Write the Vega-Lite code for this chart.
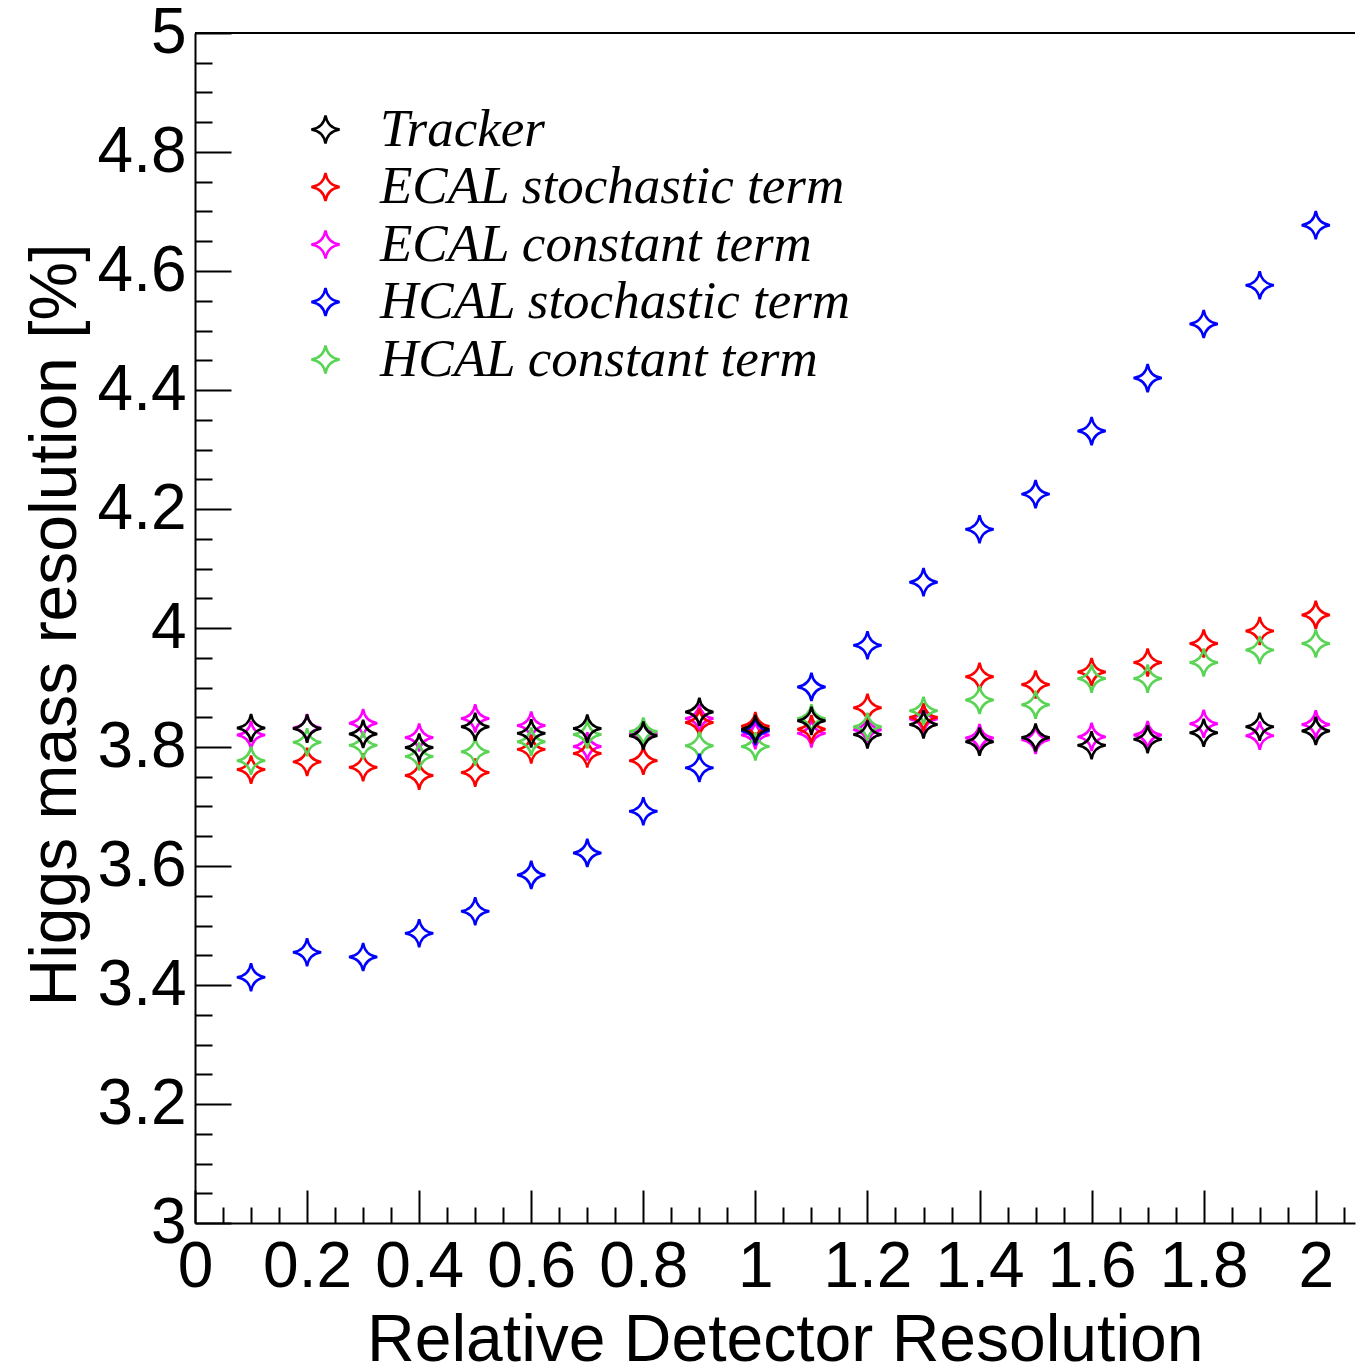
{
  "$schema": "https://vega.github.io/schema/vega-lite/v6.json",
  "autosize": "none",
  "width": 1160,
  "height": 1190,
  "padding": {"left": 195, "top": 33, "right": 1, "bottom": 144},
  "background": "white",
  "config": {
    "view": {"stroke": null},
    "axis": {
      "domainColor": "black",
      "domainWidth": 2,
      "tickColor": "black",
      "tickWidth": 2,
      "tickCount": 200,
      "grid": false,
      "labelFont": "Liberation Sans",
      "labelFontSize": 64,
      "labelColor": "black",
      "titleFont": "Liberation Sans",
      "titleFontSize": 66,
      "titleFontWeight": "normal",
      "titleColor": "black",
      "labelFlush": false,
      "labelOverlap": false,
      "labelBound": false
    }
  },
  "data": {
    "values": [
      {"det": "Tracker", "rel": 0.1, "res": 3.832},
      {"det": "Tracker", "rel": 0.2, "res": 3.831},
      {"det": "Tracker", "rel": 0.3, "res": 3.822},
      {"det": "Tracker", "rel": 0.4, "res": 3.799},
      {"det": "Tracker", "rel": 0.5, "res": 3.834},
      {"det": "Tracker", "rel": 0.6, "res": 3.823},
      {"det": "Tracker", "rel": 0.7, "res": 3.831},
      {"det": "Tracker", "rel": 0.8, "res": 3.819},
      {"det": "Tracker", "rel": 0.9, "res": 3.859},
      {"det": "Tracker", "rel": 1.0, "res": 3.830},
      {"det": "Tracker", "rel": 1.1, "res": 3.844},
      {"det": "Tracker", "rel": 1.2, "res": 3.821},
      {"det": "Tracker", "rel": 1.3, "res": 3.838},
      {"det": "Tracker", "rel": 1.4, "res": 3.809},
      {"det": "Tracker", "rel": 1.5, "res": 3.816},
      {"det": "Tracker", "rel": 1.6, "res": 3.803},
      {"det": "Tracker", "rel": 1.7, "res": 3.813},
      {"det": "Tracker", "rel": 1.8, "res": 3.824},
      {"det": "Tracker", "rel": 1.9, "res": 3.834},
      {"det": "Tracker", "rel": 2.0, "res": 3.827},
      {"det": "ECAL stochastic term", "rel": 0.1, "res": 3.762},
      {"det": "ECAL stochastic term", "rel": 0.2, "res": 3.775},
      {"det": "ECAL stochastic term", "rel": 0.3, "res": 3.766},
      {"det": "ECAL stochastic term", "rel": 0.4, "res": 3.752},
      {"det": "ECAL stochastic term", "rel": 0.5, "res": 3.757},
      {"det": "ECAL stochastic term", "rel": 0.6, "res": 3.796},
      {"det": "ECAL stochastic term", "rel": 0.7, "res": 3.789},
      {"det": "ECAL stochastic term", "rel": 0.8, "res": 3.777},
      {"det": "ECAL stochastic term", "rel": 0.9, "res": 3.841},
      {"det": "ECAL stochastic term", "rel": 1.0, "res": 3.835},
      {"det": "ECAL stochastic term", "rel": 1.1, "res": 3.830},
      {"det": "ECAL stochastic term", "rel": 1.2, "res": 3.866},
      {"det": "ECAL stochastic term", "rel": 1.3, "res": 3.850},
      {"det": "ECAL stochastic term", "rel": 1.4, "res": 3.918},
      {"det": "ECAL stochastic term", "rel": 1.5, "res": 3.905},
      {"det": "ECAL stochastic term", "rel": 1.6, "res": 3.926},
      {"det": "ECAL stochastic term", "rel": 1.7, "res": 3.942},
      {"det": "ECAL stochastic term", "rel": 1.8, "res": 3.974},
      {"det": "ECAL stochastic term", "rel": 1.9, "res": 3.995},
      {"det": "ECAL stochastic term", "rel": 2.0, "res": 4.022},
      {"det": "ECAL constant term", "rel": 0.1, "res": 3.820},
      {"det": "ECAL constant term", "rel": 0.2, "res": 3.832},
      {"det": "ECAL constant term", "rel": 0.3, "res": 3.840},
      {"det": "ECAL constant term", "rel": 0.4, "res": 3.816},
      {"det": "ECAL constant term", "rel": 0.5, "res": 3.848},
      {"det": "ECAL constant term", "rel": 0.6, "res": 3.836},
      {"det": "ECAL constant term", "rel": 0.7, "res": 3.801},
      {"det": "ECAL constant term", "rel": 0.8, "res": 3.823},
      {"det": "ECAL constant term", "rel": 0.9, "res": 3.848},
      {"det": "ECAL constant term", "rel": 1.0, "res": 3.820},
      {"det": "ECAL constant term", "rel": 1.1, "res": 3.823},
      {"det": "ECAL constant term", "rel": 1.2, "res": 3.829},
      {"det": "ECAL constant term", "rel": 1.3, "res": 3.847},
      {"det": "ECAL constant term", "rel": 1.4, "res": 3.815},
      {"det": "ECAL constant term", "rel": 1.5, "res": 3.812},
      {"det": "ECAL constant term", "rel": 1.6, "res": 3.817},
      {"det": "ECAL constant term", "rel": 1.7, "res": 3.820},
      {"det": "ECAL constant term", "rel": 1.8, "res": 3.839},
      {"det": "ECAL constant term", "rel": 1.9, "res": 3.819},
      {"det": "ECAL constant term", "rel": 2.0, "res": 3.838},
      {"det": "HCAL stochastic term", "rel": 0.1, "res": 3.413},
      {"det": "HCAL stochastic term", "rel": 0.2, "res": 3.455},
      {"det": "HCAL stochastic term", "rel": 0.3, "res": 3.447},
      {"det": "HCAL stochastic term", "rel": 0.4, "res": 3.487},
      {"det": "HCAL stochastic term", "rel": 0.5, "res": 3.524},
      {"det": "HCAL stochastic term", "rel": 0.6, "res": 3.585},
      {"det": "HCAL stochastic term", "rel": 0.7, "res": 3.622},
      {"det": "HCAL stochastic term", "rel": 0.8, "res": 3.692},
      {"det": "HCAL stochastic term", "rel": 0.9, "res": 3.765},
      {"det": "HCAL stochastic term", "rel": 1.0, "res": 3.827},
      {"det": "HCAL stochastic term", "rel": 1.1, "res": 3.901},
      {"det": "HCAL stochastic term", "rel": 1.2, "res": 3.971},
      {"det": "HCAL stochastic term", "rel": 1.3, "res": 4.077},
      {"det": "HCAL stochastic term", "rel": 1.4, "res": 4.166},
      {"det": "HCAL stochastic term", "rel": 1.5, "res": 4.225},
      {"det": "HCAL stochastic term", "rel": 1.6, "res": 4.331},
      {"det": "HCAL stochastic term", "rel": 1.7, "res": 4.420},
      {"det": "HCAL stochastic term", "rel": 1.8, "res": 4.511},
      {"det": "HCAL stochastic term", "rel": 1.9, "res": 4.576},
      {"det": "HCAL stochastic term", "rel": 2.0, "res": 4.677},
      {"det": "HCAL constant term", "rel": 0.1, "res": 3.777},
      {"det": "HCAL constant term", "rel": 0.2, "res": 3.808},
      {"det": "HCAL constant term", "rel": 0.3, "res": 3.803},
      {"det": "HCAL constant term", "rel": 0.4, "res": 3.784},
      {"det": "HCAL constant term", "rel": 0.5, "res": 3.792},
      {"det": "HCAL constant term", "rel": 0.6, "res": 3.809},
      {"det": "HCAL constant term", "rel": 0.7, "res": 3.821},
      {"det": "HCAL constant term", "rel": 0.8, "res": 3.826},
      {"det": "HCAL constant term", "rel": 0.9, "res": 3.802},
      {"det": "HCAL constant term", "rel": 1.0, "res": 3.801},
      {"det": "HCAL constant term", "rel": 1.1, "res": 3.848},
      {"det": "HCAL constant term", "rel": 1.2, "res": 3.834},
      {"det": "HCAL constant term", "rel": 1.3, "res": 3.861},
      {"det": "HCAL constant term", "rel": 1.4, "res": 3.879},
      {"det": "HCAL constant term", "rel": 1.5, "res": 3.871},
      {"det": "HCAL constant term", "rel": 1.6, "res": 3.915},
      {"det": "HCAL constant term", "rel": 1.7, "res": 3.915},
      {"det": "HCAL constant term", "rel": 1.8, "res": 3.942},
      {"det": "HCAL constant term", "rel": 1.9, "res": 3.963},
      {"det": "HCAL constant term", "rel": 2.0, "res": 3.974}
    ]
  },
  "layer": [
    {
      "mark": {"type": "rule", "color": "black", "strokeWidth": 2},
      "encoding": {"y": {"datum": 5, "type": "quantitative"}}
    },
    {
      "mark": {
        "type": "point",
        "filled": false,
        "opacity": 1,
        "strokeWidth": 2.5,
        "size": 800,
        "shape": "M0,-1Q0.13,-0.13,1,0Q0.13,0.13,0,1Q-0.13,0.13,-1,0Q-0.13,-0.13,0,-1Z"
      },
      "encoding": {
        "x": {
          "field": "rel",
          "type": "quantitative",
          "scale": {"domain": [0, 2.07], "nice": false, "zero": false},
          "axis": {
            "title": "Relative Detector Resolution",
            "values": [0, 0.05, 0.1, 0.15, 0.2, 0.25, 0.3, 0.35, 0.4, 0.45, 0.5, 0.55, 0.6, 0.65, 0.7, 0.75, 0.8, 0.85, 0.9, 0.95, 1, 1.05, 1.1, 1.15, 1.2, 1.25, 1.3, 1.35, 1.4, 1.45, 1.5, 1.55, 1.6, 1.65, 1.7, 1.75, 1.8, 1.85, 1.9, 1.95, 2, 2.05],
            "tickCount": 200,
            "tickSize": {"condition": {"test": "abs(datum.value * 5 - round(datum.value * 5)) < 0.001", "value": -33}, "value": -16},
            "labelExpr": "abs(datum.value * 5 - round(datum.value * 5)) < 0.001 ? format(datum.value, '~g') : ''",
            "labelPadding": 45,
            "titleAnchor": null,
            "titleAlign": "right",
            "titleBaseline": "alphabetic",
            "titleX": 1008,
            "titleY": 137
          }
        },
        "y": {
          "field": "res",
          "type": "quantitative",
          "scale": {"domain": [3, 5], "nice": false, "zero": false},
          "axis": {
            "title": "Higgs mass resolution [%]",
            "values": [3, 3.05, 3.1, 3.15, 3.2, 3.25, 3.3, 3.35, 3.4, 3.45, 3.5, 3.55, 3.6, 3.65, 3.7, 3.75, 3.8, 3.85, 3.9, 3.95, 4, 4.05, 4.1, 4.15, 4.2, 4.25, 4.3, 4.35, 4.4, 4.45, 4.5, 4.55, 4.6, 4.65, 4.7, 4.75, 4.8, 4.85, 4.9, 4.95, 5],
            "tickCount": 200,
            "tickSize": {"condition": {"test": "abs(datum.value * 5 - round(datum.value * 5)) < 0.001", "value": -36}, "value": -17},
            "labelExpr": "abs(datum.value * 5 - round(datum.value * 5)) < 0.001 ? format(datum.value, '~g') : ''",
            "labelPadding": 45,
            "titleAnchor": null,
            "titleAngle": 270,
            "titleAlign": "right",
            "titleBaseline": "alphabetic",
            "titleX": -120,
            "titleY": 210
          }
        },
        "color": {
          "field": "det",
          "type": "nominal",
          "sort": ["Tracker", "ECAL stochastic term", "ECAL constant term", "HCAL stochastic term", "HCAL constant term"],
          "scale": {
            "domain": ["Tracker", "ECAL stochastic term", "ECAL constant term", "HCAL stochastic term", "HCAL constant term"],
            "range": ["#000000", "#ff0000", "#ff00ff", "#0000ff", "#59d454"]
          },
          "legend": {
            "title": null,
            "orient": "none",
            "legendX": 104,
            "legendY": 70,
            "padding": 0,
            "symbolType": "M0,-1Q0.13,-0.13,1,0Q0.13,0.13,0,1Q-0.13,0.13,-1,0Q-0.13,-0.13,0,-1Z",
            "symbolSize": 800,
            "symbolStrokeWidth": 2.5,
            "symbolFillColor": "transparent",
            "symbolOpacity": 1,
            "labelFont": "Liberation Serif",
            "labelFontStyle": "italic",
            "labelFontSize": 53,
            "labelColor": "black",
            "labelOffset": 28,
            "labelLimit": 0,
            "rowPadding": 3.5
          }
        },
        "order": {"field": "det", "type": "nominal"}
      }
    }
  ]
}
